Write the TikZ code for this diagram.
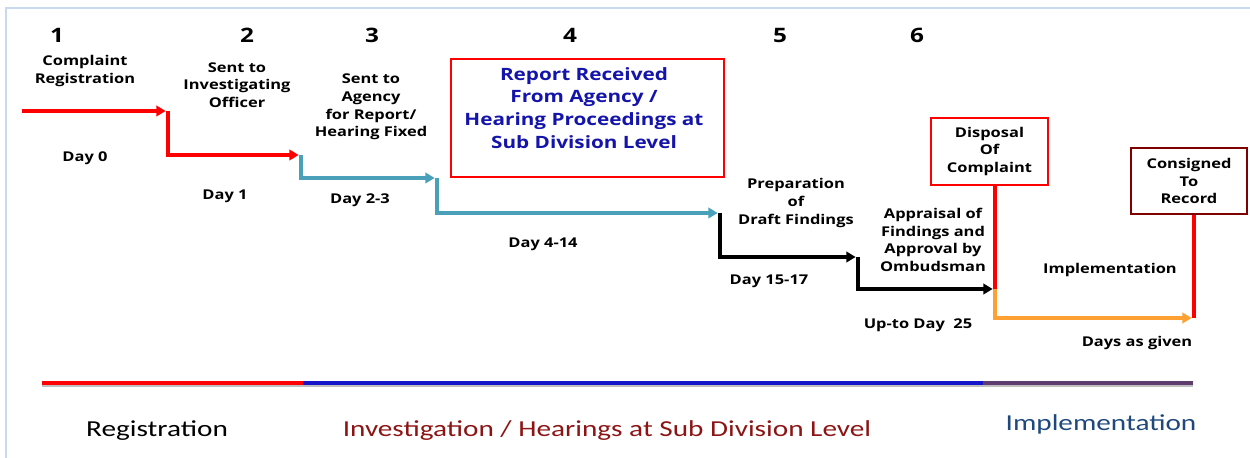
\documentclass[tikz,border=0pt]{standalone}
\usepackage{fontspec}
\setmainfont{Open Sans}[FakeStretch=1.22]
\newfontfamily\calib{Carlito}[FakeStretch=1.28]
\usetikzlibrary{arrows.meta}
\definecolor{tealc}{RGB}{75,160,185}
\definecolor{orangec}{RGB}{255,160,50}
\definecolor{maroonc}{RGB}{128,0,0}
\definecolor{framec}{RGB}{200,217,240}
\definecolor{invred}{RGB}{140,20,20}
\definecolor{impblue}{RGB}{31,73,125}
\definecolor{purplec}{RGB}{95,60,110}
\definecolor{navyc}{RGB}{20,20,200}
\definecolor{bluec}{RGB}{20,20,170}
\begin{document}
\begin{tikzpicture}[x=0.03cm,y=-0.03cm,
  lbl/.style={font=\bfseries\fontsize{11.5}{15}\selectfont, align=center, inner sep=0pt},
  num/.style={font=\bfseries\fontsize{17}{18}\selectfont, inner sep=0pt},
  flow/.style={line width=3.2pt, -{Triangle[length=8pt,width=9pt]}},
  seg/.style={line width=3.2pt},
  phase/.style={font=\calib\fontsize{19.5}{22}\selectfont, inner sep=0pt}]
\useasboundingbox (0,0) rectangle (1250,458);
% frame
\draw[framec, line width=1.2pt] (6,470) -- (6,8) -- (1260,8);

% step numbers
\node[num] (n1) at (57,35) {1};
\node[num] (n2) at (247,35) {2};
\node[num] (n3) at (372,35) {3};
\node[num] (n4) at (570,35) {4};
\node[num] (n5) at (780,35) {5};
\node[num] (n6) at (917,35) {6};

% step labels
\node[lbl] (l1) at (85,71) {Complaint\\Registration};
\node[lbl] (l2) at (237,85) {Sent to\\Investigating\\Officer};
\node[lbl] (l3) at (371,107) {Sent to\\Agency\\for Report/\\Hearing Fixed};
\node[lbl] (l5) at (796,203) {Preparation\\of\\Draft Findings};
\node[lbl] (l6) at (933,240) {Appraisal of\\Findings and\\Approval by\\Ombudsman};
\node[lbl] (l7) at (1110,270) {Implementation};

% day labels
\node[lbl] (d0) at (85,158) {Day 0};
\node[lbl] (d1) at (225,196) {Day 1};
\node[lbl] (d2) at (360,200) {Day 2-3};
\node[lbl] (d4) at (543,244) {Day 4-14};
\node[lbl] (d15) at (769,281) {Day 15-17};
\node[lbl] (d25) at (918,325) {Up-to Day\ \ 25};
\node[lbl] (dg) at (1137,343) {Days as given};

% box 4
\node[draw=red, line width=2pt, minimum width=8.19cm, minimum height=3.54cm, inner sep=0pt] (b4) at (587.5,118) {};
\node[font=\bfseries\fontsize{14.5}{19.5}\selectfont, text=bluec, align=center, inner sep=0pt] (t4) at (584,108)
  {Report Received\\From Agency /\\Hearing Proceedings at\\Sub Division Level};

% disposal / consigned boxes
\node[draw=red, line width=2pt, minimum width=3.51cm, minimum height=2.01cm, inner sep=0pt, lbl] (disp) at (989.5,151.5)
  {Disposal\\Of\\Complaint};
\node[draw=maroonc, line width=2pt, minimum width=3.48cm, minimum height=1.98cm, inner sep=0pt, lbl] (cons) at (1189,181)
  {Consigned\\To\\Record};

% coordinates of the steps
\coordinate (a0) at (22,111);
\coordinate (a1) at (168,111);
\coordinate (a1b) at (168,155);
\coordinate (a2) at (301,155);
\coordinate (a2b) at (301,178);
\coordinate (a3) at (437,178);
\coordinate (a3b) at (437,213);
\coordinate (a4) at (720,213);
\coordinate (a4b) at (720,257);
\coordinate (a5) at (858,257);
\coordinate (a5b) at (858,289);
\coordinate (a6) at (995,289);
\coordinate (a6b) at (995,318);
\coordinate (a7) at (1194,318);

\draw[flow, red] (a0) -- ([xshift=-2]a1);
\draw[flow, red] (a1) -- (a1b) -- ([xshift=-2]a2);
\draw[flow, tealc] (a2) -- (a2b) -- ([xshift=-2]a3);
\draw[flow, tealc] (a3) -- (a3b) -- ([xshift=-2]a4);
\draw[flow, black] (a4) -- (a4b) -- ([xshift=-2]a5);
\draw[flow, black] (a5) -- (a5b) -- ([xshift=-2]a6);
\draw[seg, red] (disp.south -| a6) -- (a6);
\draw[flow, orangec] (a6) -- (a6b) -- ([xshift=-2]a7);
\draw[seg, red] (cons.south -| a7) -- (a7);

% phase bar
\coordinate (p0) at (42,383);
\coordinate (p1) at (303,383);
\coordinate (p2) at (983,383);
\coordinate (p3) at (1193,383);
\draw[black!25, line width=2.4pt] ([yshift=-2]p0) -- ([yshift=-2]p3);
\draw[red, line width=2.6pt] (p0) -- (p1);
\draw[navyc, line width=2.6pt] (p1) -- (p2);
\draw[purplec, line width=2.6pt] (p2) -- (p3);

\node[phase] (ph1) at (157,431) {Registration};
\node[phase, text=invred] (ph2) at (607,431) {Investigation / Hearings at Sub Division Level};
\node[phase, text=impblue] (ph3) at (1101,424) {Implementation};
\end{tikzpicture}
\end{document}
